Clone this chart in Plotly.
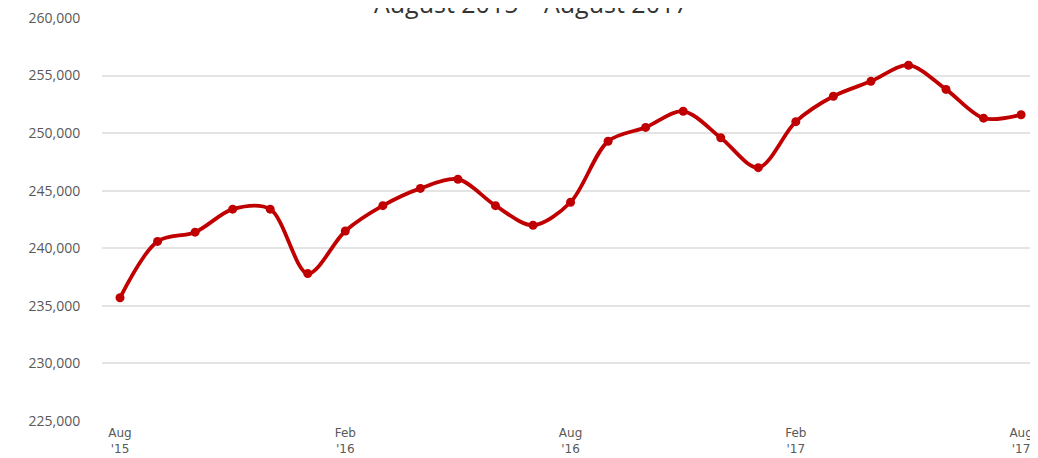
import plotly.graph_objects as go

# monthly values, Aug 2015 .. Aug 2017
months = ["Aug 15", "Sep 15", "Oct 15", "Nov 15", "Dec 15", "Jan 16", "Feb 16",
          "Mar 16", "Apr 16", "May 16", "Jun 16", "Jul 16", "Aug 16", "Sep 16",
          "Oct 16", "Nov 16", "Dec 16", "Jan 17", "Feb 17", "Mar 17", "Apr 17",
          "May 17", "Jun 17", "Jul 17", "Aug 17"]
values = [235700, 240600, 241400, 243400, 243400, 237800, 241500, 243700,
          245200, 246000, 243700, 242000, 244000, 249300, 250500, 251900,
          249600, 247000, 251000, 253200, 254500, 255900, 253800, 251300,
          251600]
tick_pos = [0, 6, 12, 18, 24]
tick_text = ["Aug<br>'15", "Feb<br>'16", "Aug<br>'16", "Feb<br>'17", "Aug<br>'17"]
y_ticks = [225000, 230000, 235000, 240000, 245000, 250000, 255000, 260000]

red = "#C00000"
grid = "#e4e4e4"
text_grey = "#595959"

x = list(range(len(values)))

fig = go.Figure()
fig.add_trace(go.Scatter(
    x=x, y=values,
    mode="lines+markers",
    line=dict(color=red, width=3.8, shape="spline", smoothing=0.9),
    marker=dict(color=red, size=9),
    text=months,
    hovertemplate="%{text}: %{y:,}<extra></extra>",
    showlegend=False,
))

# page body has an 8px margin, so the figure is 8px smaller than the window
fig.update_layout(
    width=1030, height=450,
    margin=dict(l=94, r=0, t=10, b=37, autoexpand=False),
    paper_bgcolor="white", plot_bgcolor="white",
    font=dict(family="Open Sans", color=text_grey, size=13),
    title=dict(
        text="August 2015 – August 2017",
        x=0.508, xanchor="center",
        y=1 - 5 / 450, yanchor="bottom", yref="container",
        font=dict(size=25, color="#333333", family="Open Sans"),
    ),
)

fig.update_xaxes(
    range=[-0.48, 24.45], automargin=False,
    tickmode="array", tickvals=tick_pos, ticktext=tick_text,
    showgrid=False, zeroline=False, showline=False,
    ticks="outside", ticklen=1, tickcolor="rgba(0,0,0,0)",
    tickfont=dict(size=12, color=text_grey, family="DejaVu Sans"),
    ticklabeloverflow="allow",
)
fig.update_yaxes(
    range=[225000, 260000], automargin=False,
    tickmode="array", tickvals=y_ticks, tickformat=",",
    showgrid=True, gridcolor=grid, gridwidth=1.5,
    zeroline=False, showline=False,
    ticks="outside", ticklen=18, tickcolor="rgba(0,0,0,0)",
    tickfont=dict(size=14, color=text_grey),
    ticklabeloverflow="allow",
)

fig.write_html("out.html")
